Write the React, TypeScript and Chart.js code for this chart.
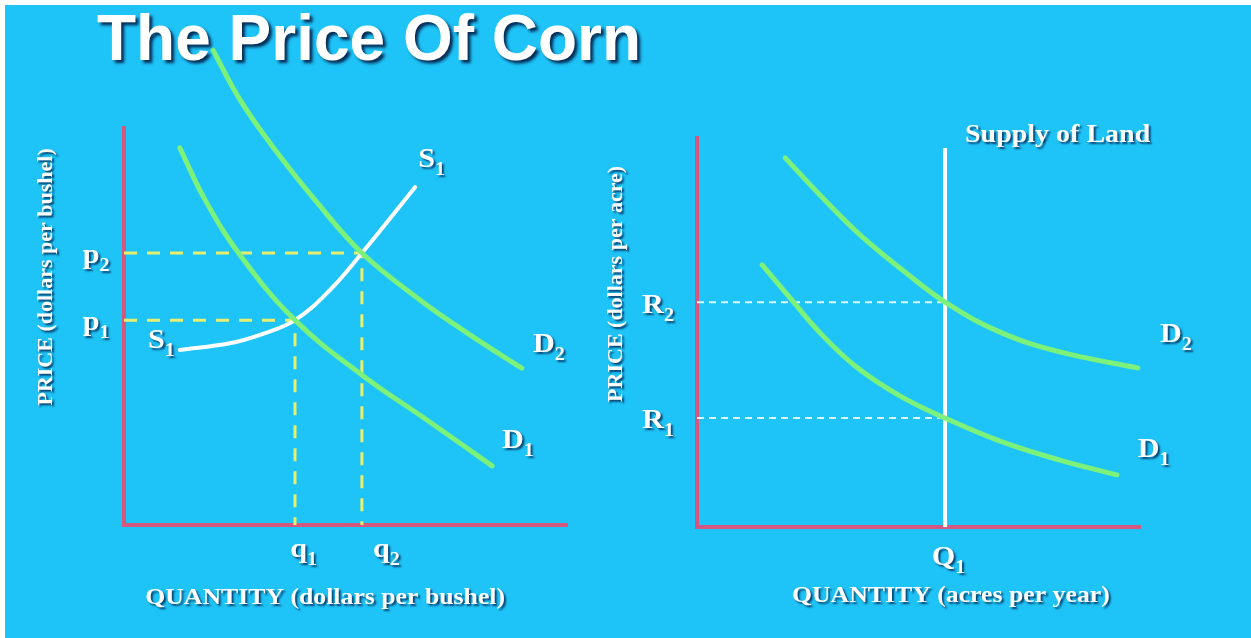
import React, { useEffect, useRef } from "react";
import { Chart, registerables } from "chart.js";

Chart.register(...registerables);

// ---------------- DATA ----------------
// Left panel: market for corn
const LEFT_D2_Q = [2.01, 2.62, 3.41, 4.31, 5.37, 6.68, 7.81, 8.98];
const LEFT_D2_P = [11.96, 10.71, 9.45, 8.19, 6.85, 5.67, 4.79, 3.95];
const LEFT_D1_Q = [1.26, 1.83, 2.62, 3.86, 5.37, 6.91, 8.31];
const LEFT_D1_P = [9.5, 8.19, 6.8, 5.16, 3.78, 2.59, 1.49];
const S1_Q = [1.26, 2.39, 3.07, 3.86, 4.65, 5.37, 6.57];
const S1_P = [4.41, 4.58, 4.79, 5.16, 5.92, 6.85, 8.51];
const Q1_CORN = 3.86;
const Q2_CORN = 5.37;
const P1_CORN = 5.16;
const P2_CORN = 6.85;

// Right panel: market for land
const RIGHT_D2_Q = [1.99, 2.78, 3.68, 4.58, 5.6, 6.84, 8.19, 9.95];
const RIGHT_D2_R = [9.49, 8.53, 7.51, 6.66, 5.78, 5.01, 4.5, 4.09];
const RIGHT_D1_Q = [1.47, 2.1, 2.78, 3.57, 4.58, 5.6, 6.84, 8.19, 9.48];
const RIGHT_D1_R = [6.74, 5.89, 4.99, 4.14, 3.37, 2.8, 2.21, 1.72, 1.34];
const Q1_LAND = 5.6;
const R1_LAND = 2.8;
const R2_LAND = 5.78;
const SUPPLY_TOP = 9.74;

// Labels (main text, subscript, anchor in data coordinates)
const LEFT_LABELS = [
  { text: "p", sub: "2", x: -0.93, y: 6.6 },
  { text: "p", sub: "1", x: -0.93, y: 4.91 },
  { text: "q", sub: "1", x: 3.75, y: -0.81 },
  { text: "q", sub: "2", x: 5.62, y: -0.81 },
  { text: "S", sub: "1", x: 0.54, y: 4.46 },
  { text: "S", sub: "1", x: 6.64, y: 9.02 },
  { text: "D", sub: "2", x: 9.23, y: 4.36 },
  { text: "D", sub: "1", x: 8.53, y: 1.94 },
];
const RIGHT_LABELS = [
  { text: "R", sub: "2", x: -1.24, y: 5.5 },
  { text: "R", sub: "1", x: -1.24, y: 2.55 },
  { text: "Q", sub: "1", x: 5.3, y: -0.98 },
  { text: "D", sub: "2", x: 10.45, y: 4.76 },
  { text: "D", sub: "1", x: 9.95, y: 1.8 },
];

const TITLE = "The Price Of Corn";
const LEFT_X_TITLE = { text: "QUANTITY (dollars per bushel)", x: 4.54, y: -1.99 };
const LEFT_Y_TITLE = { text: "PRICE (dollars per bushel)", x: -1.63, y: 6.25 };
const RIGHT_X_TITLE = { text: "QUANTITY (acres per year)", x: 5.73, y: -1.93 };
const RIGHT_Y_TITLE = { text: "PRICE (dollars per acre)", x: -1.69, y: 6.25 };
const SUPPLY_LABEL = { text: "Supply of Land", x: 6.05, y: 9.9 };

// ---------------- STYLE ----------------
const BG = "#1EC3F7";
const PINK = "#D4577F";
const GREEN = "#7DF27A";
const YELLOW = "#E6F06E";
const PALE = "#DDF6FF";
const SERIF = "'Liberation Serif', 'Times New Roman', serif";
const STRETCH = 1.12;

const zip = (xs: number[], ys: number[]) => xs.map((x, i) => ({ x, y: ys[i] }));

function shadow(ctx: CanvasRenderingContext2D, off = 2) {
  ctx.shadowColor = "rgba(0,25,70,0.75)";
  ctx.shadowOffsetX = off;
  ctx.shadowOffsetY = off;
  ctx.shadowBlur = 2;
}

function drawSubLabel(ctx: CanvasRenderingContext2D, main: string, sub: string, px: number, py: number) {
  ctx.save();
  shadow(ctx);
  ctx.fillStyle = "#FFFFFF";
  ctx.textAlign = "left";
  ctx.textBaseline = "alphabetic";
  ctx.translate(px, py);
  ctx.scale(STRETCH, 1);
  ctx.font = `bold 27px ${SERIF}`;
  ctx.fillText(main, 0, 0);
  const w = ctx.measureText(main).width;
  ctx.font = `bold 18px ${SERIF}`;
  ctx.fillText(sub, w, 8);
  ctx.restore();
}

function drawText(
  ctx: CanvasRenderingContext2D,
  text: string,
  px: number,
  py: number,
  size: number,
  align: CanvasTextAlign,
  rotate = false
) {
  ctx.save();
  shadow(ctx);
  ctx.fillStyle = "#FFFFFF";
  ctx.textAlign = align;
  ctx.textBaseline = "alphabetic";
  ctx.translate(px, py);
  if (rotate) ctx.rotate(-Math.PI / 2);
  else ctx.scale(STRETCH, 1);
  ctx.font = `bold ${size}px ${SERIF}`;
  ctx.fillText(text, 0, 0);
  ctx.restore();
}

function axisOpts(isX: boolean) {
  return {
    type: "linear" as const,
    min: 0,
    max: 10,
    ticks: { display: false },
    grid: { display: true, drawOnChartArea: false, drawTicks: false, color: "rgba(0,0,0,0)" },
    border: { display: true, color: PINK, width: 4 },
    afterFit: (s: any) => {
      if (isX) s.height = 0;
      else s.width = 0;
    },
  };
}

function curve(data: { x: number; y: number }[], color: string, width: number) {
  return {
    data,
    showLine: true,
    borderColor: color,
    borderWidth: width,
    pointRadius: 0,
    tension: 0.4,
    borderCapStyle: "round" as const,
    clip: false as any,
    order: 1,
  };
}

function dashed(data: { x: number; y: number }[], color: string, width: number, dash: number[]) {
  return {
    data,
    showLine: true,
    borderColor: color,
    borderWidth: width,
    borderDash: dash,
    pointRadius: 0,
    tension: 0,
    clip: false as any,
    order: 3,
  };
}

function baseOptions(padding: any) {
  return {
    responsive: false,
    animation: false as const,
    events: [] as any,
    layout: { padding },
    plugins: { legend: { display: false }, tooltip: { enabled: false }, title: { display: false } },
    scales: { x: axisOpts(true), y: axisOpts(false) },
  };
}

export default function App() {
  const leftRef = useRef<HTMLCanvasElement>(null);
  const rightRef = useRef<HTMLCanvasElement>(null);

  useEffect(() => {
    document.body.style.margin = "0";

    const leftPlugin = {
      id: "leftLabels",
      afterDatasetsDraw(chart: any) {
        const ctx = chart.ctx as CanvasRenderingContext2D;
        const xs = chart.scales.x;
        const ys = chart.scales.y;
        LEFT_LABELS.forEach((l) =>
          drawSubLabel(ctx, l.text, l.sub, xs.getPixelForValue(l.x), ys.getPixelForValue(l.y))
        );
        drawText(ctx, LEFT_X_TITLE.text, xs.getPixelForValue(LEFT_X_TITLE.x), ys.getPixelForValue(LEFT_X_TITLE.y), 23, "center");
        drawText(ctx, LEFT_Y_TITLE.text, xs.getPixelForValue(LEFT_Y_TITLE.x), ys.getPixelForValue(LEFT_Y_TITLE.y), 22, "center", true);
        // Title
        ctx.save();
        ctx.shadowColor = "rgba(0,20,60,0.85)";
        ctx.shadowOffsetX = 3;
        ctx.shadowOffsetY = 3;
        ctx.shadowBlur = 3;
        ctx.fillStyle = "#FFFFFF";
        ctx.textAlign = "left";
        ctx.textBaseline = "alphabetic";
        ctx.font = "bold 64px 'Liberation Sans', Arial, sans-serif";
        ctx.fillText(TITLE, 97, 60);
        ctx.restore();
      },
    };

    const rightPlugin = {
      id: "rightLabels",
      afterDatasetsDraw(chart: any) {
        const ctx = chart.ctx as CanvasRenderingContext2D;
        const xs = chart.scales.x;
        const ys = chart.scales.y;
        RIGHT_LABELS.forEach((l) =>
          drawSubLabel(ctx, l.text, l.sub, xs.getPixelForValue(l.x), ys.getPixelForValue(l.y))
        );
        drawText(ctx, RIGHT_X_TITLE.text, xs.getPixelForValue(RIGHT_X_TITLE.x), ys.getPixelForValue(RIGHT_X_TITLE.y), 23, "center");
        drawText(ctx, RIGHT_Y_TITLE.text, xs.getPixelForValue(RIGHT_Y_TITLE.x), ys.getPixelForValue(RIGHT_Y_TITLE.y), 22, "center", true);
        drawText(ctx, SUPPLY_LABEL.text, xs.getPixelForValue(SUPPLY_LABEL.x), ys.getPixelForValue(SUPPLY_LABEL.y), 25, "left");
      },
    };

    const left = new Chart(leftRef.current as HTMLCanvasElement, {
      type: "scatter",
      data: {
        datasets: [
          curve(zip(LEFT_D2_Q, LEFT_D2_P), GREEN, 5),
          curve(zip(LEFT_D1_Q, LEFT_D1_P), GREEN, 5),
          curve(zip(S1_Q, S1_P), "#FFFFFF", 4),
          dashed(
            [
              { x: 0, y: P2_CORN },
              { x: Q2_CORN, y: P2_CORN },
              { x: Q2_CORN, y: 0 },
            ],
            YELLOW,
            3,
            [13, 10]
          ),
          dashed(
            [
              { x: 0, y: P1_CORN },
              { x: Q1_CORN, y: P1_CORN },
              { x: Q1_CORN, y: 0 },
            ],
            YELLOW,
            3,
            [13, 10]
          ),
        ] as any,
      },
      options: baseOptions({ left: 124, right: 93, top: 128, bottom: 113 }) as any,
      plugins: [leftPlugin],
    });

    const right = new Chart(rightRef.current as HTMLCanvasElement, {
      type: "scatter",
      data: {
        datasets: [
          curve(zip(RIGHT_D2_Q, RIGHT_D2_R), GREEN, 5),
          curve(zip(RIGHT_D1_Q, RIGHT_D1_R), GREEN, 5),
          {
            ...curve(
              [
                { x: Q1_LAND, y: 0 },
                { x: Q1_LAND, y: SUPPLY_TOP },
              ],
              "#FFFFFF",
              4
            ),
            borderCapStyle: "butt",
            order: 2,
          },
          dashed(
            [
              { x: 0, y: R2_LAND },
              { x: Q1_LAND, y: R2_LAND },
            ],
            PALE,
            2,
            [7, 5]
          ),
          dashed(
            [
              { x: 0, y: R1_LAND },
              { x: Q1_LAND, y: R1_LAND },
            ],
            PALE,
            2,
            [7, 5]
          ),
        ] as any,
      },
      options: baseOptions({ left: 117, right: 111, top: 138, bottom: 111 }) as any,
      plugins: [rightPlugin],
    });

    return () => {
      left.destroy();
      right.destroy();
    };
  }, []);

  return (
    <div style={{ position: "relative", width: 1251, height: 638, background: "#FFFFFF", overflow: "hidden" }}>
      <div style={{ position: "absolute", left: 5, top: 5, right: 0, bottom: 0, background: BG }} />
      <canvas
        ref={leftRef}
        width={660}
        height={638}
        style={{ position: "absolute", left: 0, top: 0, width: 660, height: 638 }}
      />
      <canvas
        ref={rightRef}
        width={671}
        height={638}
        style={{ position: "absolute", left: 580, top: 0, width: 671, height: 638 }}
      />
    </div>
  );
}
